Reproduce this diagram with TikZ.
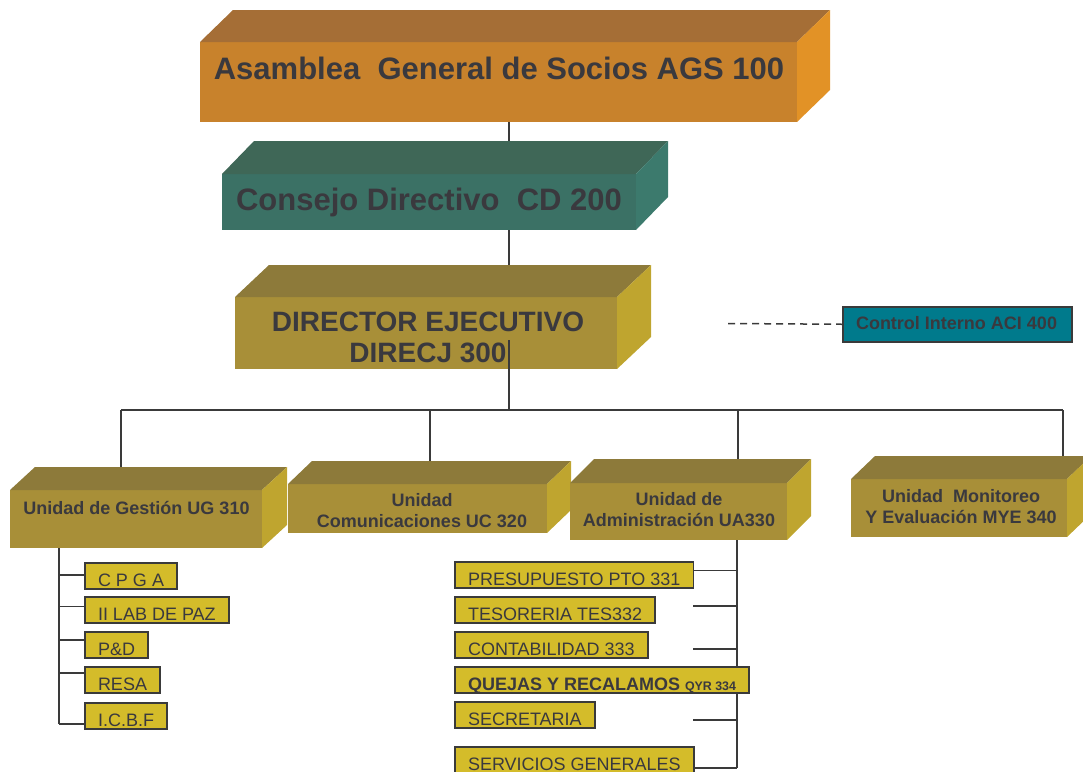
\documentclass[tikz,border=0pt]{standalone}
\usepackage{fontspec}
\setmainfont{Liberation Sans}
\usetikzlibrary{calc}
\pgfdeclarelayer{bg}
\pgfsetlayers{bg,main}
\definecolor{agsfront}{HTML}{C8822C}
\definecolor{agstop}{HTML}{A56E36}
\definecolor{agsside}{HTML}{E29226}
\definecolor{cdfront}{HTML}{3B7165}
\definecolor{cdtop}{HTML}{3F6757}
\definecolor{cdside}{HTML}{3C7A6D}
\definecolor{olfront}{HTML}{A88F38}
\definecolor{oltop}{HTML}{8D7A3A}
\definecolor{olside}{HTML}{BFA52F}
\definecolor{subfill}{HTML}{D4BC2A}
\definecolor{cifill}{HTML}{007A8C}
\definecolor{linec}{HTML}{3A3A3A}
\definecolor{txt}{HTML}{3A393E}
\newcommand\cubefaces[4]{%
  \fill[#4top] (#1.north west) -- ++(#2,-#3) -- ($(#1.north east)+(#2,-#3)$) -- (#1.north east) -- cycle;
  \fill[#4side] (#1.north east) -- ++(#2,-#3) -- ($(#1.south east)+(#2,-#3)$) -- (#1.south east) -- cycle;}
\begin{document}
\begin{tikzpicture}[x=1pt,y=-1pt,
  front/.style={inner sep=0pt,outer sep=0pt,anchor=north west,draw=none},
  bigtxt/.style={text=txt,font=\bfseries\fontsize{31}{34}\selectfont,inner sep=0pt},
  dirtxt/.style={text=txt,font=\bfseries\fontsize{28}{31}\selectfont,align=center,inner sep=0pt},
  midtxt/.style={text=txt,font=\bfseries\fontsize{18}{21}\selectfont,align=center,inner sep=0pt},
  subbox/.style={draw=linec,line width=1.8pt,fill=subfill,inner xsep=13pt,inner ysep=0pt,
    text height=23.5pt,text depth=2.5pt,anchor=north west,outer sep=0pt,text=txt,
    font=\fontsize{18}{20}\selectfont},
  mainline/.style={draw=linec,line width=2pt},
  thinline/.style={draw=linec,line width=1.5pt},
  subline/.style={draw=linec,line width=1.8pt},
  dashline/.style={draw=linec,line width=1.5pt,dash pattern=on 7pt off 5pt}]
\useasboundingbox (0,0) rectangle (1083,771);

% level 1-3 boxes
\node[front,fill=agsfront,minimum width=597pt,minimum height=80pt] (ags) at (200,42) {};
\cubefaces{ags}{33}{32}{ags}
\node[bigtxt,anchor=base] (agsT) at (499,79) {Asamblea\ \ General de Socios AGS 100};

\node[front,fill=cdfront,minimum width=414pt,minimum height=56pt] (cd) at (222,174) {};
\cubefaces{cd}{32}{33}{cd}
\node[bigtxt,anchor=base] (cdT) at (429,210) {Consejo Directivo\ \ CD 200};

\node[front,fill=olfront,minimum width=382pt,minimum height=72pt] (dir) at (235,297) {};
\cubefaces{dir}{34}{32}{ol}
\node[dirtxt,anchor=base] (dirT) at (428,362) {DIRECTOR EJECUTIVO\\DIRECJ 300};

\node[draw=linec,line width=1.5pt,fill=cifill,minimum width=229pt,minimum height=35pt,
  inner sep=0pt,anchor=north west] (ci) at (842,306) {};
\node[text=txt,font=\bfseries\fontsize{18}{20}\selectfont,inner sep=0pt,anchor=base] (ciT) at (956.5,329.5) {Control Interno ACI 400};

\node[front,fill=olfront,minimum width=252pt,minimum height=58pt] (ug) at (10,490) {};
\cubefaces{ug}{25}{23}{ol}
\node[midtxt,anchor=base] (ugT) at (136.5,514.5) {Unidad de Gestión UG 310};

\node[front,fill=olfront,minimum width=259pt,minimum height=49pt] (uc) at (288,484) {};
\cubefaces{uc}{24}{23}{ol}
\node[midtxt,anchor=base] (ucT) at (422,527.5) {Unidad\\Comunicaciones UC 320};

\node[front,fill=olfront,minimum width=217pt,minimum height=57pt] (ua) at (570,483) {};
\cubefaces{ua}{24}{24}{ol}
\node[midtxt,anchor=base] (uaT) at (679,526.5) {Unidad de\\Administración UA330};

\node[front,fill=olfront,minimum width=216pt,minimum height=58pt] (mye) at (851,479) {};
\cubefaces{mye}{24}{23}{ol}
\node[midtxt,anchor=base] (myeT) at (961,523.5) {Unidad\ \ Monitoreo\\Y Evaluación MYE 340};

% sub boxes
\node[subbox] (cpga) at (85,563) {C P G A};
\node[subbox] (lab) at (85,597) {II LAB DE PAZ};
\node[subbox] (pd) at (85,632) {P\&D};
\node[subbox] (resa) at (85,667) {RESA};
\node[subbox] (icbf) at (85,703) {I.C.B.F};

\node[subbox] (pto) at (455,562) {PRESUPUESTO PTO 331};
\node[subbox] (tes) at (455,597) {TESORERIA TES332};
\node[subbox] (con) at (455,632) {CONTABILIDAD 333};
\node[subbox,font=\bfseries\fontsize{18}{20}\selectfont] (qyr) at (455,667) {QUEJAS Y RECALAMOS {\fontsize{12.4}{14}\selectfont QYR 334}};
\node[subbox] (sec) at (455,702) {SECRETARIA};
\node[subbox] (serv) at (455,747) {SERVICIOS GENERALES};

% coordinates
\coordinate (bus) at (509,410);
\coordinate (busL) at (121,410);
\coordinate (busR) at (1063,410);
\coordinate (ucdrop) at (430,410);
\coordinate (uadrop) at (738,410);
\coordinate (dirout) at (509,340);
\coordinate (dashstart) at (728,323.5);
\coordinate (ugv) at (59,724);
\coordinate (uav) at (737,768);
\coordinate (tesb) at (693,606);
\coordinate (conb) at (693,649);
\coordinate (secb) at (693,720);
\coordinate (b1) at ([yshift=1pt]cpga.west);
\coordinate (b2) at ([yshift=3.5pt]lab.west);
\coordinate (b3) at ([yshift=5pt]pd.west);
\coordinate (b4) at ([yshift=7pt]resa.west);
\coordinate (p1) at ([yshift=4.5pt]pto.east);

\begin{pgfonlayer}{bg}
\draw[mainline] (ags.south -| bus) -- (cd.north -| bus);
\draw[mainline] (cd.south -| bus) -- (dir.north -| bus);
\draw[thinline] (busL) -- (busR);
\draw[thinline] (busL) -- (ug.north -| busL);
\draw[thinline] (ucdrop) -- (uc.north -| ucdrop);
\draw[thinline] (uadrop) -- (ua.north -| uadrop);
\draw[thinline] (busR) -- (mye.north -| busR);
\draw[subline] (ug.south -| ugv) -- (ugv);
\draw[subline] (b1 -| ugv) -- (b1);
\draw[subline] (b2 -| ugv) -- (b2);
\draw[subline] (b3 -| ugv) -- (b3);
\draw[subline] (b4 -| ugv) -- (b4);
\draw[subline] (ugv) -- (ugv -| icbf.west);
\draw[subline] (ua.south -| uav) -- (uav);
\draw[subline] (p1) -- (p1 -| uav);
\draw[subline] (tesb) -- (tesb -| uav);
\draw[subline] (conb) -- (conb -| uav);
\draw[subline] (secb) -- (secb -| uav);
\draw[subline] (uav -| serv.east) -- (uav);
\end{pgfonlayer}
\draw[thinline] (dirout) -- (bus);
\draw[dashline] (dashstart) -- (ci.west);
\end{tikzpicture}
\end{document}
